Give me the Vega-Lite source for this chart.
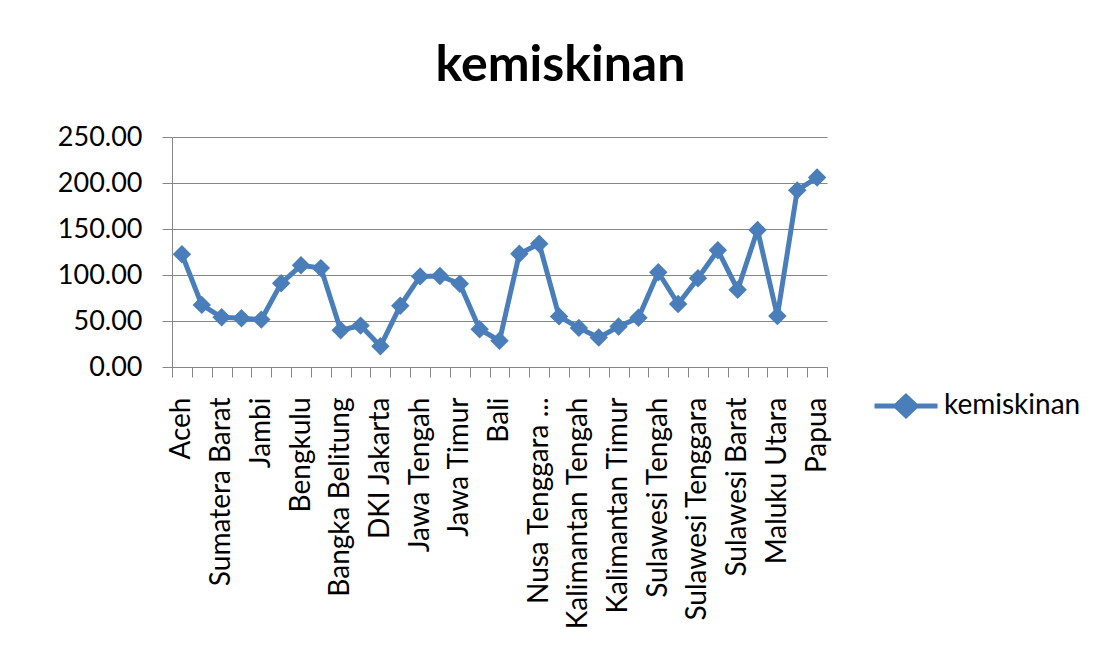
{
  "$schema": "https://vega.github.io/schema/vega-lite/v6.json",
  "width": 655,
  "height": 230,
  "autosize": "none",
  "padding": {"left": 172, "top": 137, "right": 287, "bottom": 296},
  "background": "white",
  "title": {
    "text": "kemiskinan",
    "anchor": "middle",
    "frame": "group",
    "dx": 61,
    "offset": 32,
    "font": "Lato",
    "fontSize": 50,
    "fontWeight": "bold",
    "color": "#000000"
  },
  "data": {
    "values": [
      {"provinsi": "Aceh", "nilai": 122.5},
      {"provinsi": "Sumatera Utara", "nilai": 67.5},
      {"provinsi": "Sumatera Barat", "nilai": 54},
      {"provinsi": "Riau", "nilai": 53},
      {"provinsi": "Jambi", "nilai": 51.5},
      {"provinsi": "Sumatera Selatan", "nilai": 91},
      {"provinsi": "Bengkulu", "nilai": 110.5},
      {"provinsi": "Lampung", "nilai": 107.5},
      {"provinsi": "Bangka Belitung", "nilai": 40},
      {"provinsi": "Kepulauan Riau", "nilai": 45},
      {"provinsi": "DKI Jakarta", "nilai": 22.5},
      {"provinsi": "Jawa Barat", "nilai": 66.5},
      {"provinsi": "Jawa Tengah", "nilai": 98.5},
      {"provinsi": "DI Yogyakarta", "nilai": 99},
      {"provinsi": "Jawa Timur", "nilai": 90.5},
      {"provinsi": "Banten", "nilai": 41},
      {"provinsi": "Bali", "nilai": 28.5},
      {"provinsi": "Nusa Tenggara Barat", "nilai": 123},
      {"provinsi": "Nusa Tenggara Timur", "nilai": 134},
      {"provinsi": "Kalimantan Barat", "nilai": 55},
      {"provinsi": "Kalimantan Tengah", "nilai": 42.5},
      {"provinsi": "Kalimantan Selatan", "nilai": 32},
      {"provinsi": "Kalimantan Timur", "nilai": 44},
      {"provinsi": "Sulawesi Utara", "nilai": 53.5},
      {"provinsi": "Sulawesi Tengah", "nilai": 103},
      {"provinsi": "Sulawesi Selatan", "nilai": 68.5},
      {"provinsi": "Sulawesi Tenggara", "nilai": 96.5},
      {"provinsi": "Gorontalo", "nilai": 127},
      {"provinsi": "Sulawesi Barat", "nilai": 84},
      {"provinsi": "Maluku", "nilai": 149},
      {"provinsi": "Maluku Utara", "nilai": 55.5},
      {"provinsi": "Papua Barat", "nilai": 192},
      {"provinsi": "Papua", "nilai": 206}
    ]
  },
  "mark": {
    "type": "line",
    "strokeWidth": 5,
    "point": {"shape": "diamond", "filled": true, "size": 340, "opacity": 1}
  },
  "encoding": {
    "x": {
      "field": "provinsi",
      "type": "nominal",
      "sort": null,
      "scale": {"type": "band", "paddingInner": 0, "paddingOuter": 0},
      "axis": {
        "title": null,
        "labelAngle": -90,
        "labelFont": "Lato",
        "labelFontSize": 28,
        "labelColor": "#000000",
        "labelPadding": 20,
        "labelLimit": 400,
        "labelOverlap": false,
        "labelExpr": "indexof(['Aceh','Sumatera Barat','Jambi','Bengkulu','Bangka Belitung','DKI Jakarta','Jawa Tengah','Jawa Timur','Bali','Kalimantan Tengah','Kalimantan Timur','Sulawesi Tengah','Sulawesi Tenggara','Sulawesi Barat','Maluku Utara','Papua'], datum.value) >= 0 ? datum.value : (datum.value == 'Nusa Tenggara Timur' ? 'Nusa Tenggara ...' : '')",
        "tickBand": "extent",
        "tickSize": 10,
        "tickColor": "#868686",
        "domainColor": "#868686",
        "grid": false
      }
    },
    "y": {
      "field": "nilai",
      "type": "quantitative",
      "scale": {"domain": [0, 250], "nice": false},
      "axis": {
        "title": null,
        "values": [0, 50, 100, 150, 200, 250],
        "format": ".2f",
        "labelFont": "Lato",
        "labelFontSize": 27,
        "labelColor": "#000000",
        "labelPadding": 20,
        "tickSize": 10,
        "tickColor": "#868686",
        "domainColor": "#868686",
        "grid": true,
        "gridColor": "#868686",
        "gridWidth": 1
      }
    },
    "color": {
      "datum": "kemiskinan",
      "scale": {"range": ["#4a7ebb"]},
      "legend": {
        "title": null,
        "orient": "none",
        "legendX": 700,
        "legendY": 235,
        "padding": 0,
        "labelFont": "Lato",
        "labelFontSize": 28,
        "labelColor": "#000000",
        "labelOffset": 4,
        "symbolType": "M-1,0L1,0M0,-0.3L0.32,0L0,0.3L-0.32,0Z",
        "symbolSize": 3969,
        "encode": {
          "symbols": {
            "update": {
              "fill": {"value": "#4a7ebb"},
              "stroke": {"value": "#4a7ebb"},
              "strokeWidth": {"value": 5},
              "opacity": {"value": 1}
            }
          }
        }
      }
    }
  },
  "config": {
    "view": {"stroke": null}
  }
}
